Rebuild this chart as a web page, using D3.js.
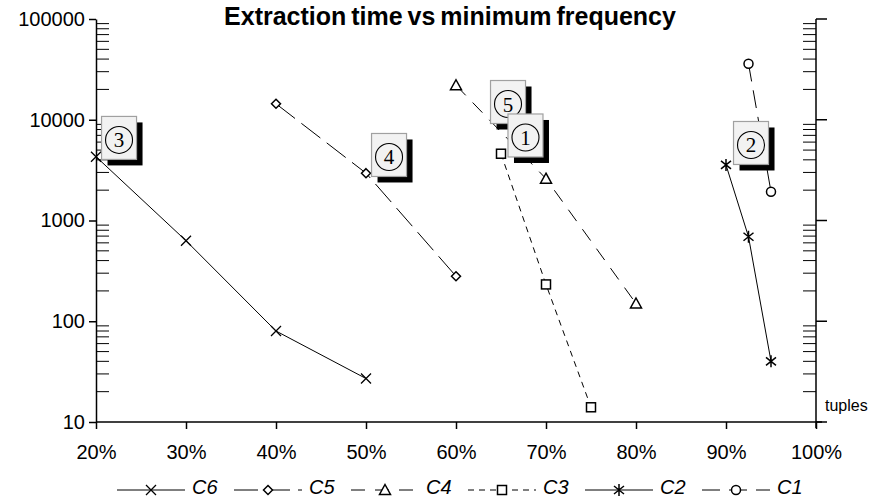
<!DOCTYPE html>
<html>
<head>
<meta charset="utf-8">
<script src="https://cdn.jsdelivr.net/npm/d3@7"></script>
<style>
  body { margin: 0; background: #fff; }
  svg { display: block; font-family: "Liberation Sans", Arial, sans-serif; }
</style>
</head>
<body>
<svg id="chart" width="872" height="499"></svg>
<script>
// series data (x = minimum frequency, y = extraction time)
const seriesNames = ["C6", "C5", "C4", "C3", "C2", "C1"];
const c6x = [0.20, 0.30, 0.40, 0.50];
const c6y = [4300, 630, 80, 27];
const c5x = [0.40, 0.50, 0.60];
const c5y = [14400, 2950, 280];
const c4x = [0.60, 0.70, 0.80];
const c4y = [22000, 2600, 150];
const c3x = [0.65, 0.70, 0.75];
const c3y = [4600, 232, 14];
const c2x = [0.90, 0.925, 0.95];
const c2y = [3560, 690, 40];
const c1x = [0.925, 0.95];
const c1y = [36000, 1930];

const xTicks = [0.2, 0.3, 0.4, 0.5, 0.6, 0.7, 0.8, 0.9, 1.0];
const yTicks = [10, 100, 1000, 10000, 100000];

// numbered callouts (centre position in data units)
const noteLabels = ["3", "4", "5", "1", "2"];
const noteX = [0.2256, 0.5256, 0.6578, 0.6772, 0.9278];
const noteY = [6600, 4470, 15000, 6980, 5880];

const svg = d3.select("#chart");
const x = d3.scaleLinear().domain([0.2, 1.0]).range([96, 816]);
const y = d3.scaleLog().domain([10, 100000]).range([422, 19]);

// minor log ticks
let minors = [];
for (let d = 10; d < 100000; d *= 10) {
    for (let k = 2; k <= 9; k++) minors.push(d * k);
}

// title
svg.append("text")
    .attr("x", 450).attr("y", 25)
    .attr("text-anchor", "middle")
    .style("font-weight", "bold").style("font-size", "25px")
    .style("word-spacing", "-2px")
    .text("Extraction time vs minimum frequency");

// left axis
const left = svg.append("g").attr("transform", "translate(" + x(0.2) + ",0)");
left.call(d3.axisLeft(y).tickValues(yTicks).tickFormat(d3.format("d")).tickSize(7).tickSizeOuter(0).tickPadding(4));
left.selectAll("text").style("font-size", "20px").style("font-family", "Liberation Sans, Arial, sans-serif").attr("fill", "#000");
left.selectAll("line").attr("stroke", "#000").attr("stroke-width", 1.5);
left.select(".domain").attr("stroke", "#000").attr("stroke-width", 1.5);
left.selectAll(".minor").data(minors).enter().append("line")
    .attr("x1", 0).attr("x2", 13)
    .attr("y1", d => y(d)).attr("y2", d => y(d))
    .attr("stroke", "#000").attr("stroke-width", 1);

// right axis
const right = svg.append("g").attr("transform", "translate(" + x(1.0) + ",0)");
right.append("line").attr("x1", 0).attr("x2", 0).attr("y1", y(100000)).attr("y2", y(10) + 6)
    .attr("stroke", "#000").attr("stroke-width", 1.5);
right.selectAll(".major").data(yTicks).enter().append("line")
    .attr("x1", 0).attr("x2", 11)
    .attr("y1", d => y(d)).attr("y2", d => y(d))
    .attr("stroke", "#000").attr("stroke-width", 1.5);
right.selectAll(".minor").data(minors).enter().append("line")
    .attr("x1", -13).attr("x2", 0)
    .attr("y1", d => y(d)).attr("y2", d => y(d))
    .attr("stroke", "#000").attr("stroke-width", 1);
svg.append("text").attr("x", x(1.0) + 9).attr("y", 411)
    .style("font-size", "16px").text("tuples");

// bottom axis
const bottom = svg.append("g").attr("transform", "translate(0," + y(10) + ")");
bottom.call(d3.axisBottom(x).tickValues(xTicks).tickFormat(d3.format(".0%")).tickSize(7).tickSizeOuter(0).tickPadding(16));
bottom.selectAll("text").style("font-size", "20px").style("font-family", "Liberation Sans, Arial, sans-serif").attr("fill", "#000");
bottom.selectAll("line").attr("stroke", "#000").attr("stroke-width", 1.5);
bottom.select(".domain").attr("stroke", "#000").attr("stroke-width", 1.5)
    .attr("d", "M" + x(0.2) + ",0H" + (x(1.0) + 6));

// marker shapes
function marker(g, type) {
    if (type === "cross") {
        g.append("path").attr("d", "M-5,-5L5,5M-5,5L5,-5").attr("stroke", "#000").attr("fill", "none").attr("stroke-width", 1.3);
    } else if (type === "diamond") {
        g.append("path").attr("d", "M0,-4.5L4.5,0L0,4.5L-4.5,0Z").attr("stroke", "#000").attr("fill", "#fff").attr("stroke-width", 1.5);
    } else if (type === "triangle") {
        g.append("path").attr("d", "M0,-5.5L5.5,4.5L-5.5,4.5Z").attr("stroke", "#000").attr("fill", "#fff").attr("stroke-width", 1.5);
    } else if (type === "square") {
        g.append("rect").attr("x", -4.5).attr("y", -4.5).attr("width", 9).attr("height", 9).attr("stroke", "#000").attr("fill", "#fff").attr("stroke-width", 1.5);
    } else if (type === "star") {
        g.append("path").attr("d", "M-5,-4L5,4M-5,4L5,-4M0,-6L0,6").attr("stroke", "#000").attr("fill", "none").attr("stroke-width", 1.5);
    } else if (type === "circle") {
        g.append("circle").attr("r", 4.5).attr("stroke", "#000").attr("fill", "#fff").attr("stroke-width", 1.5);
    }
}

const allX = [c6x, c5x, c4x, c3x, c2x, c1x];
const allY = [c6y, c5y, c4y, c3y, c2y, c1y];
const markers = ["cross", "diamond", "triangle", "square", "star", "circle"];
const dashes = [null, "24,8", "14,10", "6,5", null, "18,9"];

const line = d3.line().x(d => x(d[0])).y(d => y(d[1]));

seriesNames.forEach((name, i) => {
    const pts = allX[i].map((v, j) => [v, allY[i][j]]);
    svg.append("path").datum(pts).attr("d", line)
        .attr("fill", "none").attr("stroke", "#000").attr("stroke-width", 1)
        .attr("stroke-dasharray", dashes[i]);
    pts.forEach(p => {
        const g = svg.append("g").attr("transform", "translate(" + x(p[0]) + "," + y(p[1]) + ")");
        marker(g, markers[i]);
    });
});

// callout boxes
noteLabels.forEach((lab, i) => {
    const cx = x(noteX[i]), cy = y(noteY[i]);
    const g = svg.append("g").attr("transform", "translate(" + cx + "," + cy + ")");
    g.append("rect").attr("x", -17.5 + 6).attr("y", -21.5 + 6).attr("width", 35).attr("height", 43).attr("fill", "#000");
    g.append("rect").attr("x", -17.5).attr("y", -21.5).attr("width", 35).attr("height", 43)
        .attr("fill", "#f2f2f2").attr("stroke", "#a0a0a0").attr("stroke-width", 1.2);
    g.append("circle").attr("cx", 0).attr("cy", 2).attr("r", 13.5)
        .attr("fill", "none").attr("stroke", "#000").attr("stroke-width", 1.1);
    g.append("text").attr("x", 0).attr("y", 9.5).attr("text-anchor", "middle")
        .style("font-family", "Liberation Serif, Times New Roman, serif").style("font-size", "21px")
        .text(lab);
});

// legend
const legY = 490;
const legStart = 117, legStep = 117;
seriesNames.forEach((name, i) => {
    const x0 = legStart + i * legStep;
    svg.append("line").attr("x1", x0).attr("x2", x0 + 68).attr("y1", legY).attr("y2", legY)
        .attr("stroke", "#000").attr("stroke-width", 1).attr("stroke-dasharray", dashes[i]);
    const g = svg.append("g").attr("transform", "translate(" + (x0 + 34) + "," + legY + ")");
    marker(g, markers[i]);
    svg.append("text").attr("x", x0 + 75).attr("y", 494)
        .style("font-style", "italic").style("font-size", "20px").text(name);
});
</script>
</body>
</html>
